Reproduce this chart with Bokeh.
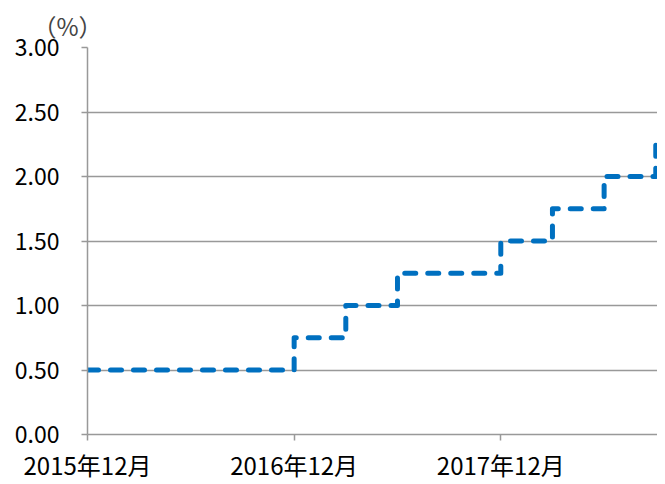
from bokeh.plotting import figure
from bokeh.models import Range1d, FixedTicker, NumeralTickFormatter
from bokeh.embed import file_html
from bokeh.resources import INLINE

# Data: policy rate changes (month, rate %)
change_months = ["2015-12", "2016-12", "2017-03", "2017-06", "2017-12", "2018-03", "2018-06", "2018-09"]
rates = [0.50, 0.75, 1.00, 1.25, 1.50, 1.75, 2.00, 2.25]
tick_months = ["2015-12", "2016-12", "2017-12"]
tick_labels = ["2015年12月", "2016年12月", "2017年12月"]
y_ticks = [0.0, 0.5, 1.0, 1.5, 2.0, 2.5, 3.0]
unit_label = "（%）"


def month_index(s):
    y, m = s.split("-")
    return (int(y) - 2015) * 12 + int(m) - 12


xs = [month_index(m) for m in change_months]
tick_x = [month_index(m) for m in tick_months]

FONT = "Noto Sans CJK JP"

p = figure(width=657, height=484, output_backend="svg", toolbar_location=None,
           x_range=Range1d(0, 33.1), y_range=Range1d(0, 3.0),
           min_border_left=87, min_border_right=0, min_border_top=47, min_border_bottom=45,
           title=unit_label)
p.outline_line_color = None
p.background_fill_color = "white"
p.border_fill_color = "white"

p.title.text_font = FONT
p.title.text_font_size = "24px"
p.title.text_font_style = "normal"
p.title.text_line_height = 1.0
p.title.align = "left"
p.title.offset = -55
p.title.standoff = 9

p.step(xs, rates, mode="after", line_color="#0070C0", line_width=5,
       line_dash="11 12", line_cap="round", line_join="round")

# axes
p.xaxis.ticker = FixedTicker(ticks=tick_x)
p.xaxis.major_label_overrides = {t: l for t, l in zip(tick_x, tick_labels)}
p.yaxis.ticker = FixedTicker(ticks=y_ticks)
p.yaxis.formatter = NumeralTickFormatter(format="0.00")
for ax in (p.xaxis, p.yaxis):
    ax.axis_line_color = "#999999"
    ax.axis_line_width = 1.5
    ax.major_tick_line_color = "#999999"
    ax.major_tick_line_width = 1.5
    ax.major_tick_out = 6
    ax.major_tick_in = 0
    ax.minor_tick_line_color = None
    ax.major_label_text_font = FONT
    ax.major_label_text_color = "black"
p.xaxis.major_label_text_font_size = "24px"
p.yaxis.major_label_text_font_size = "23px"
p.xaxis.major_label_standoff = 6
p.yaxis.major_label_standoff = 22

p.xgrid.grid_line_color = None
p.ygrid.grid_line_color = "#999999"
p.ygrid.grid_line_width = 1.5
p.ygrid.ticker = FixedTicker(ticks=y_ticks)

open("out.html", "w").write(file_html(p, INLINE))
